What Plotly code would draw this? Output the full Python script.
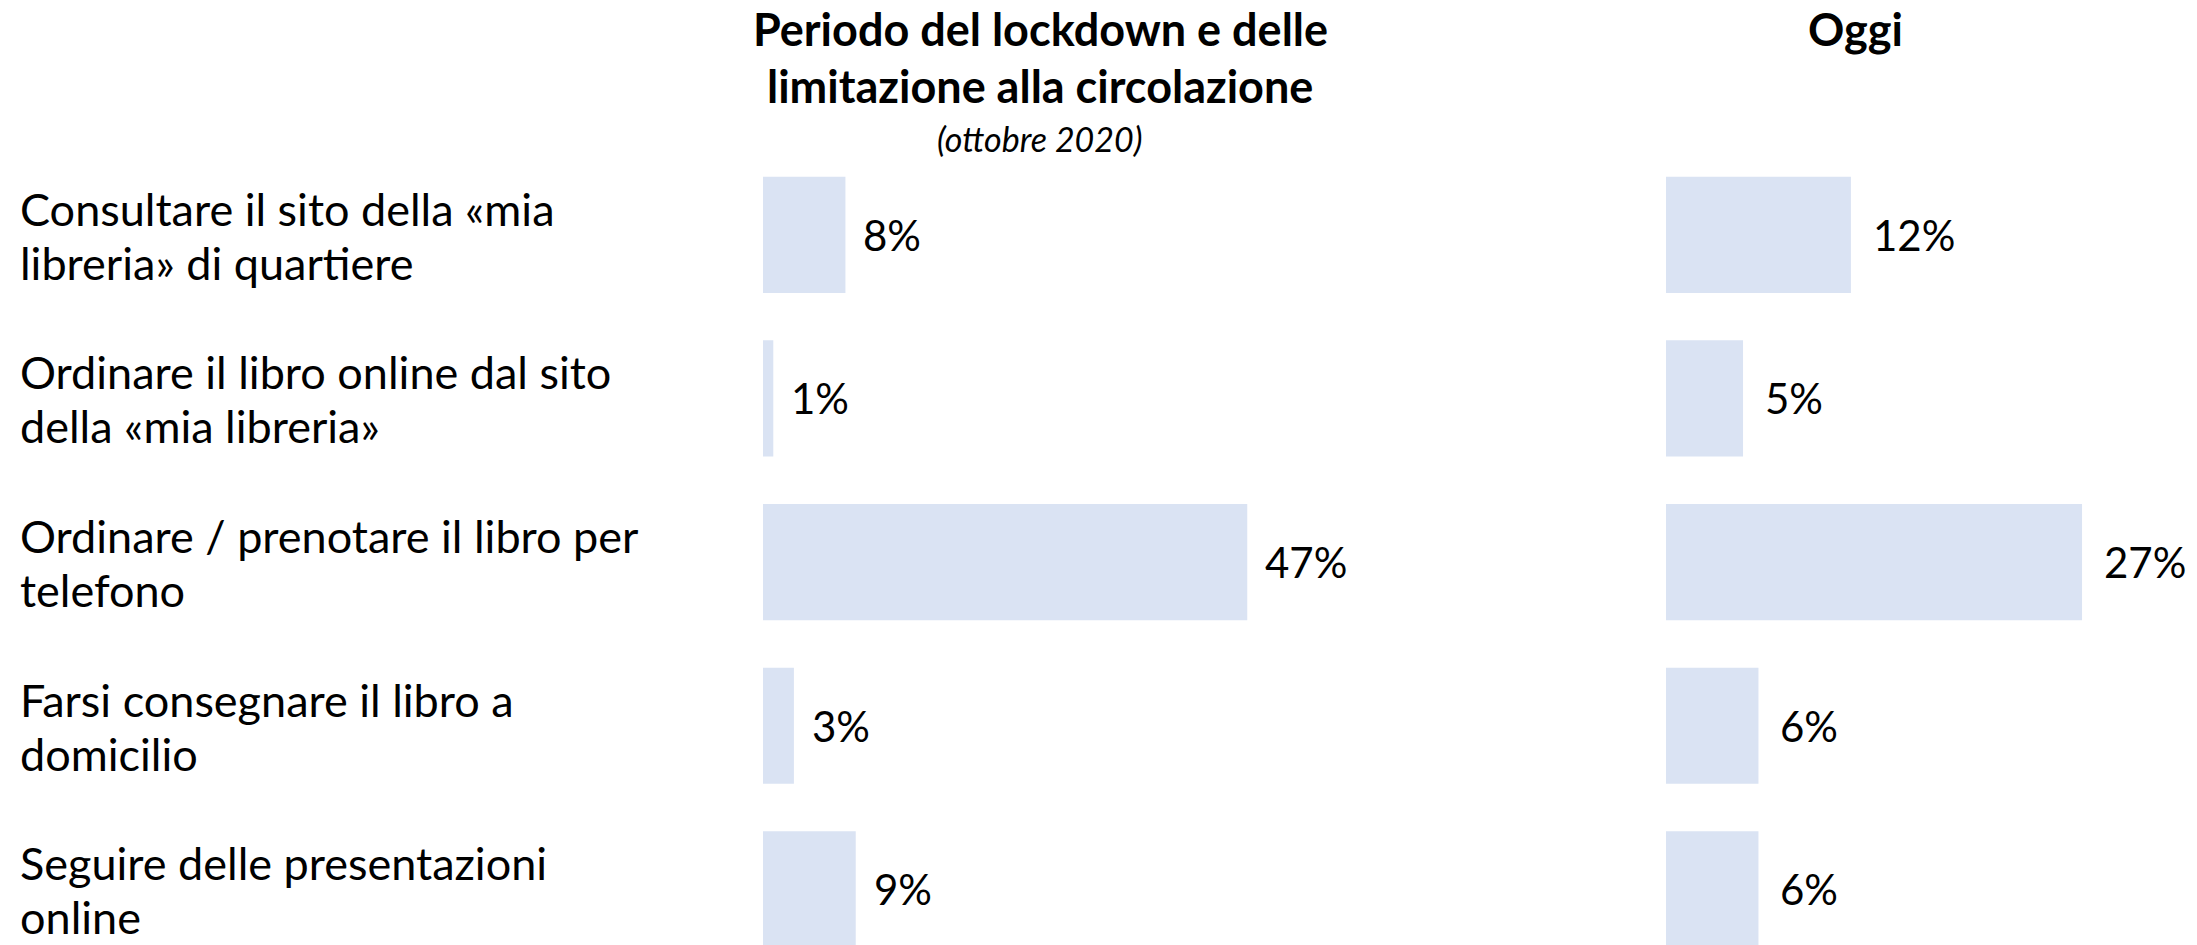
import plotly.graph_objects as go

# ---- data ----
categories = [
    "Consultare il sito della «mia<br>libreria» di quartiere",
    "Ordinare il libro online dal sito<br>della «mia libreria»",
    "Ordinare / prenotare il libro per<br>telefono",
    "Farsi consegnare il libro a<br>domicilio",
    "Seguire delle presentazioni<br>online",
]
lockdown_pct = [8, 1, 47, 3, 9]
oggi_pct = [12, 5, 27, 6, 6]

title_left = ["Periodo del lockdown e delle", "limitazione alla circolazione"]
subtitle_left = "(ottobre 2020)"
title_right = "Oggi"

# ---- style ----
W, H = 2197, 945
TOP = 153
FONT = "Lato"
BAR_COLOR = "#DAE3F3"
LABEL_SIZE = 45
VALUE_SIZE = 42
TITLE_SIZE = 45
SUB_SIZE = 34
LINE_GAP = 54

def py(px):
    return (H - px) / (H - TOP)

fig = go.Figure()
fig.add_trace(go.Bar(
    x=lockdown_pct, y=categories, orientation="h",
    marker=dict(color=BAR_COLOR, line=dict(width=0)),
    width=0.71, xaxis="x", yaxis="y", hoverinfo="skip",
))
fig.add_trace(go.Bar(
    x=oggi_pct, y=categories, orientation="h",
    marker=dict(color=BAR_COLOR, line=dict(width=0)),
    width=0.71, xaxis="x2", yaxis="y", hoverinfo="skip",
))

annotations = []
# category labels (left aligned, one annotation per line)
for cat in categories:
    lines = cat.split("<br>")
    n = len(lines)
    for i, ln in enumerate(lines):
        shift = (n - 1) / 2 * LINE_GAP - i * LINE_GAP - 1
        annotations.append(dict(
            text=ln, xref="paper", yref="y", x=18 / W, y=cat,
            xanchor="left", yanchor="middle", yshift=shift, showarrow=False,
            font=dict(family=FONT, size=LABEL_SIZE, color="black"),
        ))
# value labels
for xref, vals, xs in (("x", lockdown_pct, 16), ("x2", oggi_pct, 20)):
    for cat, v in zip(categories, vals):
        annotations.append(dict(
            text=f"{v}%", xref=xref, yref="y", x=v, y=cat,
            xanchor="left", yanchor="middle", xshift=xs, showarrow=False,
            font=dict(family=FONT, size=VALUE_SIZE, color="black"),
        ))
# titles
for ln, ypx in zip(title_left, (29, 86)):
    annotations.append(dict(
        text=f"<b>{ln}</b>", xref="paper", yref="paper", x=1040 / W, y=py(ypx),
        xanchor="center", yanchor="middle", showarrow=False,
        font=dict(family=FONT, size=TITLE_SIZE, color="black"),
    ))
annotations.append(dict(
    text=f"<i>{subtitle_left}</i>", xref="paper", yref="paper", x=1040 / W, y=py(139),
    xanchor="center", yanchor="middle", showarrow=False,
    font=dict(family=FONT, size=SUB_SIZE, color="black"),
))
annotations.append(dict(
    text=f"<b>{title_right}</b>", xref="paper", yref="paper", x=1855 / W, y=py(29),
    xanchor="center", yanchor="middle", showarrow=False,
    font=dict(family=FONT, size=TITLE_SIZE, color="black"),
))

axis_common = dict(showgrid=False, zeroline=False, showticklabels=False,
                   showline=False, ticks="", fixedrange=True)

fig.update_layout(
    width=W, height=H,
    margin=dict(l=0, r=0, t=TOP, b=0),
    paper_bgcolor="white", plot_bgcolor="white",
    showlegend=False,
    xaxis=dict(domain=[763 / W, 1307 / W], range=[0, 52.8], anchor="y", **axis_common),
    xaxis2=dict(domain=[1666 / W, 1.0], range=[0, 34.46], anchor="y", **axis_common),
    yaxis=dict(type="category", categoryorder="array", categoryarray=categories,
               range=[4.34, -0.5], **axis_common),
    annotations=annotations,
    font=dict(family=FONT),
)

fig.write_html("out.html", config={"displayModeBar": False})
